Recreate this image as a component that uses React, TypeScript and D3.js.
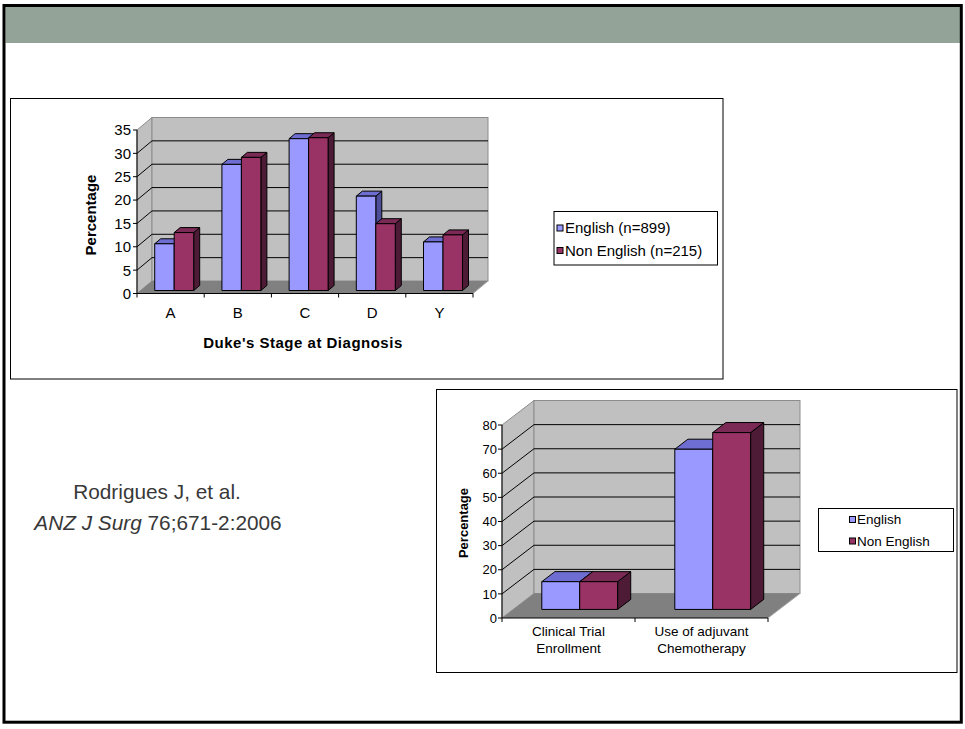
import React from "react";
import * as d3 from "d3";

// ---------- DATA ----------
const stageCategories = ["A", "B", "C", "D", "Y"];
const stageEnglish = [10, 27, 32.5, 20.2, 10.4];
const stageNonEnglish = [12.4, 28.5, 32.7, 14.3, 11.9];
const stageTicks = [0, 5, 10, 15, 20, 25, 30, 35];
const stageLegend = ["English (n=899)", "Non English (n=215)"];

const outcomeCategories = [
  ["Clinical Trial", "Enrollment"],
  ["Use of adjuvant", "Chemotherapy"],
];
const outcomeEnglish = [11.5, 66.4];
const outcomeNonEnglish = [11.5, 73.3];
const outcomeTicks = [0, 10, 20, 30, 40, 50, 60, 70, 80];
const outcomeLegend = ["English", "Non English"];

const citationLine1 = "Rodrigues J, et al.";
const citationItalic = "ANZ J Surg";
const citationRest = " 76;671-2:2006";

// ---------- STYLE ----------
const FONT = "'Liberation Sans', Arial, Helvetica, sans-serif";
const SERIES_COLORS = [
  { front: "#9999FF", top: "#6E6ED2", side: "#4D4D99" },
  { front: "#993366", top: "#7A2A55", side: "#4E1B37" },
];
const WALL = "#C0C0C0";
const FLOOR = "#808080";
const WALL_EDGE = "#8C8C8C";

type ChartProps = {
  categories: string[][];
  series: number[][];
  ticks: number[];
  x0: number;
  x1: number;
  yBase: number;
  yTopPx: number;
  dx: number;
  dy: number;
  barStart: number;
  barDepth: number;
  groupFrac: number;
  tickFont: number;
  tickLabelX: number;
  catFont: number;
  catY: number;
  catLineH: number;
  yTitle: string;
  yTitleX: number;
  yTitleY: number;
  yTitleFont: number;
};

function Chart3D(p: ChartProps) {
  const max = p.ticks[p.ticks.length - 1];
  const y = d3.scaleLinear().domain([0, max]).range([p.yBase, p.yTopPx]);
  const x = d3
    .scaleBand<number>()
    .domain(d3.range(p.categories.length))
    .range([p.x0, p.x1])
    .paddingInner(0)
    .paddingOuter(0);
  const bw = x.bandwidth();
  const pad = (bw * (1 - p.groupFrac)) / 2;
  const inner = d3
    .scaleBand<number>()
    .domain(d3.range(p.series.length))
    .range([pad, bw - pad]);
  const { dx, dy } = p;
  const bx = p.dx * p.barStart;
  const by = p.dy * p.barStart;
  const bdx = p.dx * p.barDepth;
  const bdy = p.dy * p.barDepth;
  const yTop = y(max);
  const pts = (a: number[][]) => a.map((q) => q.join(",")).join(" ");

  const boundaries = d3.range(p.categories.length + 1).map((i) =>
    i < p.categories.length ? (x(i) as number) : p.x1
  );

  return (
    <g>
      {/* left wall */}
      <polygon
        points={pts([
          [p.x0, p.yBase],
          [p.x0, yTop],
          [p.x0 + dx, yTop - dy],
          [p.x0 + dx, p.yBase - dy],
        ])}
        fill={WALL}
        stroke={WALL_EDGE}
        strokeWidth={1}
      />
      {/* back wall */}
      <rect
        x={p.x0 + dx}
        y={yTop - dy}
        width={p.x1 - p.x0}
        height={p.yBase - yTop}
        fill={WALL}
        stroke={WALL_EDGE}
        strokeWidth={1}
      />
      {/* floor */}
      <polygon
        points={pts([
          [p.x0, p.yBase],
          [p.x0 + dx, p.yBase - dy],
          [p.x1 + dx, p.yBase - dy],
          [p.x1, p.yBase],
        ])}
        fill={FLOOR}
        stroke="none"
      />
      <line
        x1={p.x1}
        y1={p.yBase}
        x2={p.x1 + dx}
        y2={p.yBase - dy}
        stroke="#A8A8A8"
        strokeWidth={1}
      />
      {/* gridlines */}
      {p.ticks
        .filter((t) => t !== 0 && t !== max)
        .map((t) => (
          <g key={"g" + t}>
            <line
              x1={p.x0}
              y1={y(t)}
              x2={p.x0 + dx}
              y2={y(t) - dy}
              stroke="#000"
              strokeWidth={1}
            />
            <line
              x1={p.x0 + dx}
              y1={y(t) - dy}
              x2={p.x1 + dx}
              y2={y(t) - dy}
              stroke="#000"
              strokeWidth={1}
            />
          </g>
        ))}
      {/* y axis */}
      <line x1={p.x0} y1={p.yBase} x2={p.x0} y2={yTop} stroke="#000" strokeWidth={1} />
      {p.ticks.map((t) => (
        <g key={"t" + t}>
          <line x1={p.x0 - 4} y1={y(t)} x2={p.x0} y2={y(t)} stroke="#000" strokeWidth={1} />
          <text
            x={p.tickLabelX}
            y={y(t)}
            dy="0.36em"
            textAnchor="end"
            fontFamily={FONT}
            fontSize={p.tickFont}
            fill="#000"
          >
            {t}
          </text>
        </g>
      ))}
      <text
        transform={`translate(${p.yTitleX},${p.yTitleY}) rotate(-90)`}
        textAnchor="middle"
        dy="0.36em"
        fontFamily={FONT}
        fontWeight="bold"
        fontSize={p.yTitleFont}
        fill="#000"
      >
        {p.yTitle}
      </text>
      {/* x axis */}
      <line x1={p.x0} y1={p.yBase} x2={p.x1} y2={p.yBase} stroke="#000" strokeWidth={1} />
      {boundaries.map((b, i) => (
        <line key={"xt" + i} x1={b} y1={p.yBase} x2={b} y2={p.yBase + 4} stroke="#000" strokeWidth={1} />
      ))}
      {p.categories.map((lines, i) =>
        lines.map((l, j) => (
          <text
            key={`c${i}-${j}`}
            x={(x(i) as number) + bw / 2}
            y={p.catY + j * p.catLineH}
            textAnchor="middle"
            dy="0.36em"
            fontFamily={FONT}
            fontSize={p.catFont}
            fill="#000"
          >
            {l}
          </text>
        ))
      )}
      {/* bars */}
      {p.categories.map((_, i) =>
        p.series.map((s, k) => {
          const v = s[i];
          const left = (x(i) as number) + (inner(k) as number) + bx;
          const w = inner.bandwidth();
          const base = y(0) - by;
          const top = y(v) - by;
          const c = SERIES_COLORS[k];
          return (
            <g key={`b${i}-${k}`} stroke="#000" strokeWidth={1} strokeLinejoin="round">
              <polygon
                points={pts([
                  [left + w, top],
                  [left + w + bdx, top - bdy],
                  [left + w + bdx, base - bdy],
                  [left + w, base],
                ])}
                fill={c.side}
              />
              <polygon
                points={pts([
                  [left, top],
                  [left + w, top],
                  [left + w + bdx, top - bdy],
                  [left + bdx, top - bdy],
                ])}
                fill={c.top}
              />
              <rect x={left} y={top} width={w} height={base - top} fill={c.front} />
            </g>
          );
        })
      )}
    </g>
  );
}

function Legend(props: {
  x: number;
  y: number;
  w: number;
  h: number;
  labels: string[];
  markerX: number;
  textX: number;
  rowY: number[];
  font: number;
}) {
  return (
    <g>
      <rect x={props.x} y={props.y} width={props.w} height={props.h} fill="#fff" stroke="#000" strokeWidth={1} />
      {props.labels.map((l, i) => (
        <g key={l}>
          <rect
            x={props.markerX}
            y={props.rowY[i] - 3}
            width={6}
            height={6}
            fill={SERIES_COLORS[i].front}
            stroke="#000"
            strokeWidth={1}
          />
          <text
            x={props.textX}
            y={props.rowY[i]}
            dy="0.36em"
            fontFamily={FONT}
            fontSize={props.font}
            fill="#000"
          >
            {l}
          </text>
        </g>
      ))}
    </g>
  );
}

export default function App() {
  return (
    <div style={{ position: "absolute", left: 0, top: 0 }}>
      <svg width={965} height={729} style={{ display: "block" }}>
        <rect x={0} y={0} width={965} height={729} fill="#fff" />
        {/* header band */}
        <rect x={5.5} y={7} width={954.5} height={36} fill="#93A398" />
        {/* slide border */}
        <rect x={4} y={5.5} width={957.3} height={716.7} fill="none" stroke="#000" strokeWidth={3} />

        {/* top chart frame */}
        <rect x={10.5} y={98.5} width={712.5} height={280.5} fill="#fff" stroke="#000" strokeWidth={1} />
        <Chart3D
          categories={stageCategories.map((c) => [c])}
          series={[stageEnglish, stageNonEnglish]}
          ticks={stageTicks}
          x0={137}
          x1={473}
          yBase={293.5}
          yTopPx={130}
          dx={15}
          dy={12.5}
          barStart={0.24}
          barDepth={0.4}
          groupFrac={0.58}
          tickFont={15}
          tickLabelX={131}
          catFont={15}
          catY={313}
          catLineH={17}
          yTitle="Percentage"
          yTitleX={91}
          yTitleY={215}
          yTitleFont={15}
        />
        <text
          x={303}
          y={343}
          dy="0.36em"
          textAnchor="middle"
          fontFamily={FONT}
          fontWeight="bold"
          fontSize={15}
          letterSpacing={0.5}
          fill="#000"
        >
          Duke's Stage at Diagnosis
        </text>
        <Legend
          x={554}
          y={211.5}
          w={163.5}
          h={53.5}
          labels={stageLegend}
          markerX={557}
          textX={565}
          rowY={[228, 250.5]}
          font={15}
        />

        {/* citation */}
        <text x={157} y={492} dy="0.36em" textAnchor="middle" fontFamily={FONT} fontSize={20.8} fill="#383838">
          {citationLine1}
        </text>
        <text x={158} y={523} dy="0.36em" textAnchor="middle" fontFamily={FONT} fontSize={20.8} fill="#383838">
          <tspan fontStyle="italic">{citationItalic}</tspan>
          <tspan>{citationRest}</tspan>
        </text>

        {/* bottom chart frame */}
        <rect x={436.5} y={389.5} width={520.5} height={283} fill="#fff" stroke="#000" strokeWidth={1} />
        <Chart3D
          categories={outcomeCategories}
          series={[outcomeEnglish, outcomeNonEnglish]}
          ticks={outcomeTicks}
          x0={502}
          x1={768}
          yBase={618}
          yTopPx={425}
          dx={32}
          dy={24.5}
          barStart={0.35}
          barDepth={0.41}
          groupFrac={0.57}
          tickFont={13}
          tickLabelX={497}
          catFont={13.5}
          catY={631}
          catLineH={17.5}
          yTitle="Percentage"
          yTitleX={463.5}
          yTitleY={523}
          yTitleFont={13}
        />
        <Legend
          x={818.5}
          y={508.5}
          w={135}
          h={43}
          labels={outcomeLegend}
          markerX={849.5}
          textX={857}
          rowY={[519.5, 541]}
          font={13.5}
        />
      </svg>
    </div>
  );
}
